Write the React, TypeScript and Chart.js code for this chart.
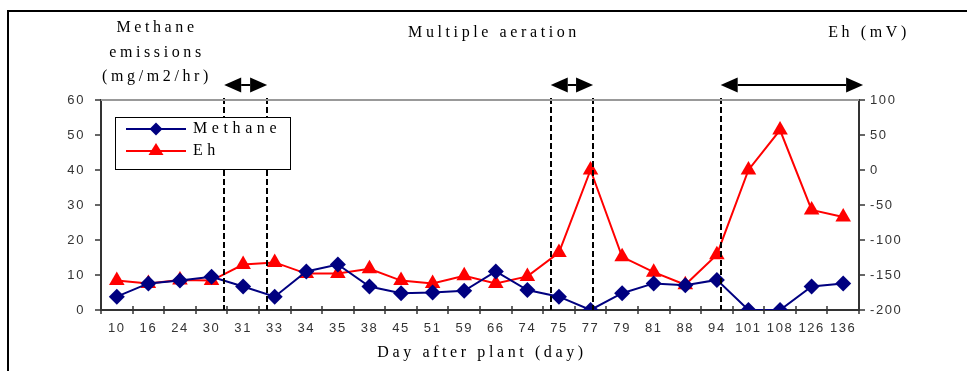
import React, { useEffect, useRef } from "react";
import { Chart, registerables } from "chart.js";

Chart.register(...registerables);

const days = ["10","16","24","30","31","33","34","35","38","45","51","59","66","74","75","77","79","81","88","94","101","108","126","136"];
const methane = [3.8,7.6,8.4,9.5,6.7,3.8,11,13,6.7,4.8,5,5.5,11,5.7,3.8,0,4.8,7.6,7.1,8.6,0,0,6.7,7.6];
const eh = [-158,-162,-157,-158,-135,-132,-148,-148,-141,-158,-162,-151,-162,-152,-118,0,-124,-146,-164,-121,0,57,-57,-67];
const leftTicks = { min: 0, max: 60, step: 10 };
const rightTicks = { min: -200, max: 100, step: 50 };
// aeration periods in category-index units
const dashedLines = [3.4, 4.76, 13.74, 15.08, 19.12];
const arrows: [number, number][] = [[3.4, 4.76], [13.74, 15.08], [19.12, 23.63]];
const leftTitle = ["Methane", "emissions", "(mg/m2/hr)"];
const centerTitle = "Multiple aeration";
const rightTitle = "Eh (mV)";
const xTitle = "Day after plant (day)";
const legendNames = ["Methane", "Eh"];

const NAVY = "#000080";
const RED = "#ff0000";
const SERIF = "'Liberation Serif', 'Times New Roman', serif";
const SANS = "'Liberation Sans', Arial, sans-serif";

function drawDiamond(ctx: CanvasRenderingContext2D, x: number, y: number, r: number, c: string) {
  ctx.beginPath();
  ctx.moveTo(x, y - r);
  ctx.lineTo(x + r, y);
  ctx.lineTo(x, y + r);
  ctx.lineTo(x - r, y);
  ctx.closePath();
  ctx.fillStyle = c;
  ctx.fill();
}
function drawTri(ctx: CanvasRenderingContext2D, x: number, y: number, w: number, h: number, c: string) {
  ctx.beginPath();
  ctx.moveTo(x, y - h * 2 / 3);
  ctx.lineTo(x + w / 2, y + h / 3);
  ctx.lineTo(x - w / 2, y + h / 3);
  ctx.closePath();
  ctx.fillStyle = c;
  ctx.fill();
}

const decor = {
  id: "decor",
  beforeDraw(chart: any) {
    chart.ctx.letterSpacing = "1.6px";
  },
  afterDatasetsDraw(chart: any) {
    const ctx: CanvasRenderingContext2D = chart.ctx;
    const { top, bottom } = chart.chartArea;
    const xs = chart.scales.x;
    ctx.save();
    ctx.strokeStyle = "#000";
    ctx.lineWidth = 2;
    ctx.setLineDash([6, 3]);
    dashedLines.forEach((v) => {
      const x = Math.round(xs.getPixelForValue(v));
      ctx.beginPath();
      ctx.moveTo(x, top - 2);
      ctx.lineTo(x, bottom);
      ctx.stroke();
    });
    ctx.restore();
  },
  afterDraw(chart: any) {
    const ctx: CanvasRenderingContext2D = chart.ctx;
    const { left, right, top, bottom } = chart.chartArea;
    const xs = chart.scales.x;
    const yl = chart.scales.y;
    const yr = chart.scales.y1;
    ctx.save();
    ctx.letterSpacing = "0px";
    // frame
    ctx.strokeStyle = "#000";
    ctx.lineWidth = 2;
    ctx.beginPath();
    ctx.moveTo(8, 400);
    ctx.lineTo(8, 11);
    ctx.lineTo(967, 11);
    ctx.stroke();
    // top gray border
    ctx.strokeStyle = "#999";
    ctx.lineWidth = 2;
    ctx.beginPath();
    ctx.moveTo(left, top);
    ctx.lineTo(right, top);
    ctx.stroke();
    // tick marks
    ctx.strokeStyle = "#333";
    ctx.lineWidth = 1.5;
    for (let v = leftTicks.min; v <= leftTicks.max; v += leftTicks.step) {
      const y = Math.round(yl.getPixelForValue(v));
      ctx.beginPath();
      ctx.moveTo(left - 6, y);
      ctx.lineTo(left, y);
      ctx.stroke();
    }
    for (let v = rightTicks.min; v <= rightTicks.max; v += rightTicks.step) {
      const y = Math.round(yr.getPixelForValue(v));
      ctx.beginPath();
      ctx.moveTo(right, y);
      ctx.lineTo(right + 6, y);
      ctx.stroke();
    }
    for (let i = 0; i <= days.length; i++) {
      const x = Math.round(xs.getPixelForValue(i - 0.5));
      ctx.beginPath();
      ctx.moveTo(x, bottom - 4);
      ctx.lineTo(x, bottom + 4);
      ctx.stroke();
    }
    // arrows
    ctx.fillStyle = "#000";
    ctx.strokeStyle = "#000";
    ctx.lineWidth = 2;
    const ay = top - 15;
    arrows.forEach(([a, b]) => {
      const x1 = xs.getPixelForValue(a);
      const x2 = xs.getPixelForValue(b);
      const hl = 17, hh = 7.5;
      ctx.beginPath();
      ctx.moveTo(x1 + hl, ay);
      ctx.lineTo(x2 - hl, ay);
      ctx.stroke();
      ctx.beginPath();
      ctx.moveTo(x1, ay);
      ctx.lineTo(x1 + hl, ay - hh);
      ctx.lineTo(x1 + hl, ay + hh);
      ctx.closePath();
      ctx.fill();
      ctx.beginPath();
      ctx.moveTo(x2, ay);
      ctx.lineTo(x2 - hl, ay - hh);
      ctx.lineTo(x2 - hl, ay + hh);
      ctx.closePath();
      ctx.fill();
    });
    // titles
    ctx.fillStyle = "#000";
    ctx.font = `16px ${SERIF}`;
    ctx.letterSpacing = "3.6px";
    ctx.textBaseline = "middle";
    ctx.textAlign = "center";
    leftTitle.forEach((t, i) => ctx.fillText(t, 157, 28 + i * 24.5));
    ctx.fillText(centerTitle, 494, 33);
    ctx.fillText(rightTitle, 869, 33);
    ctx.fillText(xTitle, 482, 353);
    // legend
    const lx = left + 14, ly = top + 17;
    ctx.letterSpacing = "0px";
    ctx.fillStyle = "#fff";
    ctx.fillRect(lx, ly, 175, 52);
    ctx.strokeStyle = "#000";
    ctx.lineWidth = 1;
    ctx.strokeRect(lx + 0.5, ly + 0.5, 175, 52);
    const rows = [ly + 12, ly + 34];
    ctx.lineWidth = 2;
    ctx.strokeStyle = NAVY;
    ctx.beginPath();
    ctx.moveTo(lx + 11, rows[0]);
    ctx.lineTo(lx + 71, rows[0]);
    ctx.stroke();
    drawDiamond(ctx, lx + 41, rows[0], 6.5, NAVY);
    ctx.strokeStyle = RED;
    ctx.beginPath();
    ctx.moveTo(lx + 11, rows[1]);
    ctx.lineTo(lx + 71, rows[1]);
    ctx.stroke();
    drawTri(ctx, lx + 41, rows[1], 15, 12, RED);
    ctx.fillStyle = "#000";
    ctx.font = `16px ${SERIF}`;
    ctx.letterSpacing = "4.6px";
    ctx.textAlign = "left";
    legendNames.forEach((n, i) => ctx.fillText(n, lx + 78, rows[i]));
    ctx.restore();
    ctx.letterSpacing = "0px";
  },
};

export default function App() {
  const ref = useRef<HTMLCanvasElement>(null);
  useEffect(() => {
    if (!ref.current) return;
    const chart = new Chart(ref.current, {
      type: "line",
      data: {
        labels: days,
        datasets: [
          {
            label: legendNames[0],
            data: methane,
            yAxisID: "y",
            borderColor: NAVY,
            backgroundColor: NAVY,
            borderWidth: 2,
            pointStyle: "rectRot",
            pointRadius: 8,
            pointBorderWidth: 0,
            pointBackgroundColor: NAVY,
            tension: 0,
          },
          {
            label: legendNames[1],
            data: eh,
            yAxisID: "y1",
            borderColor: RED,
            backgroundColor: RED,
            borderWidth: 2,
            pointStyle: "triangle",
            pointRadius: 9,
            pointBorderWidth: 0,
            pointBackgroundColor: RED,
            tension: 0,
          },
        ],
      },
      options: {
        animation: false,
        responsive: false,
        layout: { padding: { top: 100, left: 0, right: 0, bottom: 0 } },
        plugins: { legend: { display: false }, tooltip: { enabled: false } },
        scales: {
          x: {
            type: "category",
            offset: true,
            grid: { display: false, drawTicks: false },
            border: { display: true, color: "#333", width: 2 },
            ticks: { autoSkip: false, maxRotation: 0, padding: 11, color: "#333", font: { family: SANS, size: 13 } },
            afterFit: (s: any) => { s.height = 61; },
          },
          y: {
            position: "left",
            min: leftTicks.min,
            max: leftTicks.max,
            grid: { display: false, drawTicks: false },
            border: { display: true, color: "#333", width: 2 },
            ticks: { stepSize: leftTicks.step, padding: 16, color: "#333", font: { family: SANS, size: 13 } },
            afterFit: (s: any) => { s.width = 101; },
          },
          y1: {
            position: "right",
            min: rightTicks.min,
            max: rightTicks.max,
            grid: { display: false, drawTicks: false },
            border: { display: true, color: "#333", width: 2 },
            ticks: { stepSize: rightTicks.step, padding: 11, color: "#333", font: { family: SANS, size: 13 } },
            afterFit: (s: any) => { s.width = 108; },
          },
        },
      },
      plugins: [decor],
    });
    return () => chart.destroy();
  }, []);
  return (
    <div style={{ position: "fixed", left: 0, top: 0, width: 967, height: 371, background: "#fff" }}>
      <canvas ref={ref} width={967} height={371} style={{ width: 967, height: 371, display: "block" }} />
    </div>
  );
}
